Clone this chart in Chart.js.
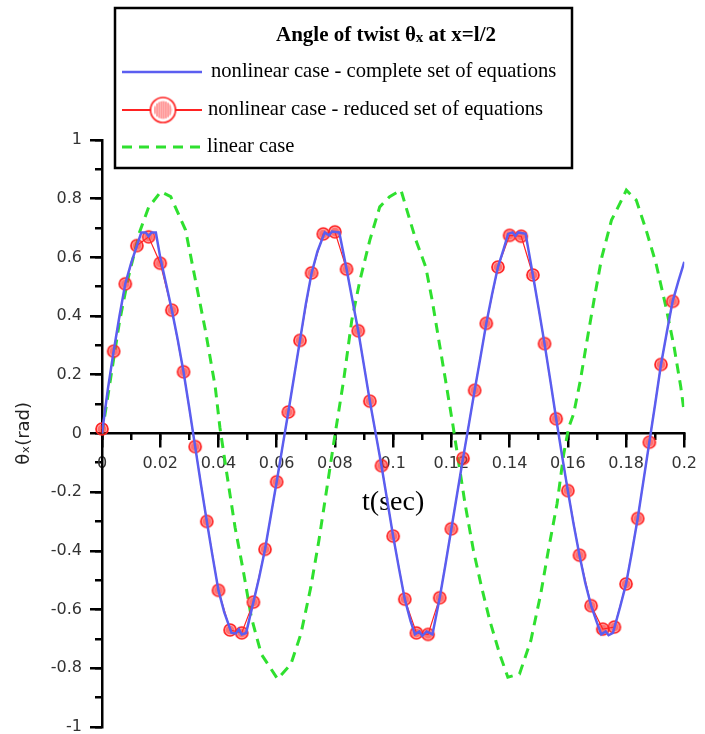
<!DOCTYPE html>
<html>
<head>
<meta charset="utf-8">
<script src="https://cdn.jsdelivr.net/npm/chart.js@4.4.1/dist/chart.umd.min.js"></script>
<style>
html,body{margin:0;padding:0;background:#fff;}
#wrap{width:705px;height:734px;position:relative;}
</style>
</head>
<body>
<div id="wrap"><canvas id="c" width="705" height="734"></canvas></div>
<script>
// ---------- data ----------
const seriesLabels = [
  'nonlinear case - complete set of equations',
  'nonlinear case - reduced set of equations',
  'linear case'
];
const legendTitleMain = 'Angle of twist \u03B8';
const legendTitleSub = 'x';
const legendTitleEnd = ' at x=l/2';
const xTitle = 't(sec)';
const yTitle = '\u03B8\u2093(rad)';

const xTickValues = [0,0.02,0.04,0.06,0.08,0.1,0.12,0.14,0.16,0.18,0.2];
const xTickLabels = ['0','0.02','0.04','0.06','0.08','0.1','0.12','0.14','0.16','0.18','0.2'];
const xMinorTicks = [0,0.01,0.02,0.03,0.04,0.05,0.06,0.07,0.08,0.09,0.1,0.11,0.12,0.13,0.14,0.15,0.16,0.17,0.18,0.19,0.2];
const yTickValues = [-1,-0.8,-0.6,-0.4,-0.2,0,0.2,0.4,0.6,0.8,1];
const yTickLabels = ['-1','-0.8','-0.6','-0.4','-0.2','0','0.2','0.4','0.6','0.8','1'];
const yMinorTicks = [-1,-0.9,-0.8,-0.7,-0.6,-0.5,-0.4,-0.3,-0.2,-0.1,0,0.1,0.2,0.3,0.4,0.5,0.6,0.7,0.8,0.9,1];

// nonlinear case - complete set of equations (blue)
const completeT = [0,0.002,0.004,0.006,0.008,0.010,0.012,0.0135,0.015,0.016,0.017,0.0185,0.020,0.022,0.024,0.026,0.028,0.030,0.032,0.034,
  0.036,0.038,0.040,0.042,0.0445,0.046,0.047,0.048,0.0495,0.052,0.054,0.056,0.058,0.060,0.062,0.064,0.066,0.068,0.070,0.072,
  0.074,0.0765,0.078,0.079,0.0815,0.084,0.086,0.088,0.090,0.092,0.094,0.096,0.098,0.100,0.102,0.104,0.106,0.1075,0.109,0.110,
  0.1115,0.1135,0.116,0.118,0.120,0.122,0.124,0.126,0.128,0.130,0.132,0.134,0.136,0.138,0.1395,0.141,0.142,0.143,0.1455,0.148,
  0.150,0.152,0.154,0.156,0.158,0.160,0.162,0.164,0.166,0.168,0.170,0.1715,0.173,0.174,0.1755,0.178,0.180,0.182,0.184,0.186,
  0.188,0.190,0.192,0.194,0.196,0.198,0.200];
const completeY = [0,0.15,0.28,0.40,0.51,0.58,0.64,0.685,0.685,0.672,0.685,0.685,0.60,0.51,0.42,0.32,0.21,0.085,-0.045,-0.175,
  -0.30,-0.42,-0.535,-0.61,-0.68,-0.682,-0.668,-0.685,-0.68,-0.575,-0.49,-0.395,-0.28,-0.165,-0.045,0.073,0.195,0.317,0.44,0.547,
  0.62,0.685,0.675,0.688,0.685,0.56,0.455,0.35,0.23,0.11,0.0,-0.11,-0.23,-0.35,-0.46,-0.565,-0.64,-0.685,-0.675,-0.69,
  -0.675,-0.685,-0.56,-0.445,-0.325,-0.205,-0.085,0.03,0.147,0.26,0.375,0.475,0.567,0.63,0.68,0.685,0.673,0.685,0.68,0.54,
  0.425,0.306,0.18,0.05,-0.075,-0.195,-0.31,-0.415,-0.51,-0.587,-0.645,-0.685,-0.675,-0.688,-0.68,-0.59,-0.513,-0.405,-0.29,-0.16,
  -0.03,0.10,0.235,0.345,0.45,0.52,0.585];

// nonlinear case - reduced set of equations (red, markers)
const reducedT = [0,0.004,0.008,0.012,0.016,0.020,0.024,0.028,0.032,0.036,0.040,0.044,0.048,0.052,0.056,0.060,0.064,0.068,0.072,0.076,
  0.080,0.084,0.088,0.092,0.096,0.100,0.104,0.108,0.112,0.116,0.120,0.124,0.128,0.132,0.136,0.140,0.144,0.148,0.152,0.156,
  0.160,0.164,0.168,0.172,0.176,0.180,0.184,0.188,0.192,0.196];
const reducedY = [0.015,0.28,0.51,0.64,0.67,0.58,0.42,0.21,-0.045,-0.30,-0.535,-0.67,-0.68,-0.575,-0.395,-0.165,0.073,0.317,0.547,0.68,
  0.687,0.56,0.35,0.11,-0.11,-0.35,-0.565,-0.68,-0.685,-0.56,-0.325,-0.085,0.147,0.375,0.567,0.675,0.672,0.54,0.306,0.05,
  -0.195,-0.415,-0.587,-0.667,-0.66,-0.513,-0.29,-0.03,0.235,0.45];

// linear case (green dashed)
const linearT = [0,0.003,0.006,0.009,0.0129,0.016,0.0202,0.0236,0.0287,0.0321,0.0355,0.0389,0.0405,0.0434,0.0457,0.0485,0.0513,0.0547,0.0603,0.0649,
  0.0683,0.0717,0.0745,0.0773,0.0801,0.083,0.0858,0.0886,0.092,0.0954,0.0988,0.1027,0.1044,0.1078,0.1112,0.1134,0.1157,0.118,0.1205,0.1247,
  0.1276,0.1304,0.1332,0.1366,0.1394,0.1434,0.1473,0.1507,0.1535,0.1563,0.1586,0.1603,0.162,0.1643,0.1666,0.1694,0.1717,0.175,0.1779,0.1801,
  0.1835,0.1869,0.1903,0.1937,0.1965,0.1988,0.2];
const linearY = [0,0.19,0.38,0.53,0.686,0.77,0.824,0.807,0.693,0.522,0.352,0.158,0.02,-0.172,-0.32,-0.467,-0.627,-0.752,-0.837,-0.786,
  -0.684,-0.525,-0.365,-0.183,0,0.181,0.386,0.522,0.659,0.772,0.807,0.829,0.772,0.659,0.567,0.454,0.317,0.181,0.03,-0.24,
  -0.40,-0.525,-0.638,-0.752,-0.831,-0.82,-0.706,-0.547,-0.388,-0.24,-0.07,0.02,0.067,0.18,0.317,0.477,0.602,0.727,0.784,0.829,
  0.795,0.693,0.579,0.431,0.295,0.158,0.07];

// ---------- styling helpers ----------
const BLUE = '#5b5ef0';
const RED = '#ff2222';
const GREEN = '#2fe02f';
const pts = (T, Y) => T.map((t, i) => ({x: t, y: Y[i]}));

function makeMarker(r, step, fill) {
  const s = Math.ceil(2 * r + 4);
  const cv = document.createElement('canvas');
  cv.width = s; cv.height = s;
  const g = cv.getContext('2d');
  const c = s / 2;
  g.beginPath(); g.arc(c, c, r, 0, Math.PI * 2);
  g.fillStyle = fill; g.fill();
  g.save(); g.beginPath(); g.arc(c, c, r * 0.72, 0, Math.PI * 2); g.clip();
  g.strokeStyle = RED; g.lineWidth = 0.9;
  for (let dx = -r; dx <= r; dx += step) {
    g.beginPath(); g.moveTo(c + dx, c - r); g.lineTo(c + dx, c + r); g.stroke();
  }
  g.restore();
  g.beginPath(); g.arc(c, c, r, 0, Math.PI * 2);
  g.strokeStyle = RED; g.lineWidth = 1.7; g.stroke();
  return cv;
}
const plotMarker = makeMarker(6, 2, 'rgba(255,50,50,0.4)');
const legendMarker = makeMarker(12.5, 2.2, 'rgba(255,255,255,1)');

// ---------- custom legend ----------
const legendPlugin = {
  id: 'boxLegend',
  afterDraw(chart) {
    const ctx = chart.ctx;
    const L = 115, T = 8, W = 457, H = 160;
    ctx.save();
    ctx.fillStyle = '#fff';
    ctx.fillRect(L, T, W, H);
    ctx.lineWidth = 2.5; ctx.strokeStyle = '#000';
    ctx.strokeRect(L, T, W, H);

    // title
    ctx.fillStyle = '#000';
    ctx.textBaseline = 'middle';
    ctx.textAlign = 'left';
    const fMain = 'bold 21px "Liberation Serif", "Times New Roman", serif';
    const fSub = 'bold 15px "Liberation Serif", "Times New Roman", serif';
    ctx.font = fMain; const w1 = ctx.measureText(legendTitleMain).width;
    const w3 = ctx.measureText(legendTitleEnd).width;
    ctx.font = fSub; const w2 = ctx.measureText(legendTitleSub).width;
    let x = 386 - (w1 + w2 + w3) / 2;
    const ty = 36;
    ctx.font = fMain; ctx.fillText(legendTitleMain, x, ty); x += w1;
    ctx.font = fSub; ctx.fillText(legendTitleSub, x, ty + 2); x += w2;
    ctx.font = fMain; ctx.fillText(legendTitleEnd, x, ty);

    // rows in legend order: complete, reduced, linear
    const ds = chart.data.datasets;
    const order = [0, 1, 2];
    const rowY = [72, 110, 147];
    const textX = [211, 208, 207];
    order.forEach((di, r) => {
      const d = ds[di];
      const y = rowY[r];
      ctx.save();
      ctx.strokeStyle = d.borderColor;
      ctx.lineWidth = d.legendLineWidth || d.borderWidth;
      ctx.setLineDash(d.borderDash || []);
      ctx.beginPath(); ctx.moveTo(122, y); ctx.lineTo(202, y); ctx.stroke();
      ctx.restore();
      if (d.legendMarker) {
        ctx.drawImage(d.legendMarker, 163 - d.legendMarker.width / 2, y - d.legendMarker.height / 2);
      }
      ctx.fillStyle = '#000';
      ctx.font = '20.6px "Liberation Serif", "Times New Roman", serif';
      ctx.textBaseline = 'middle';
      ctx.fillText(d.label, textX[r], y);
    });
    ctx.restore();
  }
};

// ---------- chart ----------
const tickFont = {family: '"DejaVu Sans", sans-serif', size: 16};

new Chart(document.getElementById('c'), {
  type: 'line',
  data: {
    datasets: [
      {
        label: seriesLabels[0],
        data: pts(completeT, completeY),
        borderColor: BLUE, borderWidth: 2.5,
        pointRadius: 0, tension: 0,
        xAxisID: 'x', yAxisID: 'y', order: 0
      },
      {
        label: seriesLabels[1],
        data: pts(reducedT, reducedY),
        borderColor: RED, borderWidth: 1.2, legendLineWidth: 2,
        backgroundColor: RED,
        pointStyle: plotMarker, pointRadius: 6, legendMarker: legendMarker,
        tension: 0, clip: false,
        xAxisID: 'x', yAxisID: 'y', order: 1
      },
      {
        label: seriesLabels[2],
        data: pts(linearT, linearY),
        borderColor: GREEN, borderWidth: 3, borderDash: [10, 7],
        pointRadius: 0, tension: 0,
        xAxisID: 'x', yAxisID: 'y', order: 2
      }
    ]
  },
  options: {
    responsive: false,
    animation: false,
    devicePixelRatio: 1,
    layout: {padding: {top: 140, right: 13, bottom: 6, left: 0}},
    plugins: {legend: {display: false}, tooltip: {enabled: false}},
    scales: {
      x: {
        type: 'linear', axis: 'x', min: 0, max: 0.2,
        position: {y: 0},
        afterBuildTicks: (s) => { s.ticks = xTickValues.map(v => ({value: v})); },
        grid: {drawOnChartArea: false, drawTicks: true, tickLength: 13, color: '#000', lineWidth: 2.5},
        border: {display: true, color: '#000', width: 2.5},
        ticks: {font: tickFont, color: '#333', padding: 8, maxRotation: 0, autoSkip: false,
          callback: (v, i) => xTickLabels[i]},
        title: {display: true, text: xTitle, color: '#000',
          font: {family: '"Liberation Serif", "Times New Roman", serif', size: 28},
          padding: {top: 4, bottom: 4}}
      },
      xMinor: {
        type: 'linear', axis: 'x', min: 0, max: 0.2,
        position: {y: 0},
        afterBuildTicks: (s) => { s.ticks = xMinorTicks.map(v => ({value: v})); },
        grid: {drawOnChartArea: false, drawTicks: true, tickLength: 7, color: '#000', lineWidth: 2.5},
        border: {display: false},
        ticks: {display: false}
      },
      y: {
        type: 'linear', axis: 'y', min: -1, max: 1,
        position: 'left',
        afterBuildTicks: (s) => { s.ticks = yTickValues.map(v => ({value: v})); },
        afterFit: (s) => { s.width = 102; s.paddingTop = 0; s.paddingBottom = 0; },
        grid: {drawOnChartArea: false, drawTicks: true, tickLength: 12, color: '#000', lineWidth: 2.5},
        border: {display: true, color: '#000', width: 2.5},
        ticks: {font: tickFont, color: '#333', padding: 8, autoSkip: false,
          callback: (v, i) => yTickLabels[i]},
        title: {display: true, text: yTitle, color: '#222',
          font: {family: '"DejaVu Sans", sans-serif', size: 18},
          padding: {top: 14, bottom: 0}}
      },
      yMinor: {
        type: 'linear', axis: 'y', min: -1, max: 1,
        position: {x: 0},
        afterBuildTicks: (s) => { s.ticks = yMinorTicks.map(v => ({value: v})); },
        afterFit: (s) => { s.paddingTop = 0; s.paddingBottom = 0; },
        grid: {drawOnChartArea: false, drawTicks: true, tickLength: 7, color: '#000', lineWidth: 2.5},
        border: {display: false},
        ticks: {display: false}
      }
    }
  },
  plugins: [legendPlugin]
});
</script>
</body>
</html>
